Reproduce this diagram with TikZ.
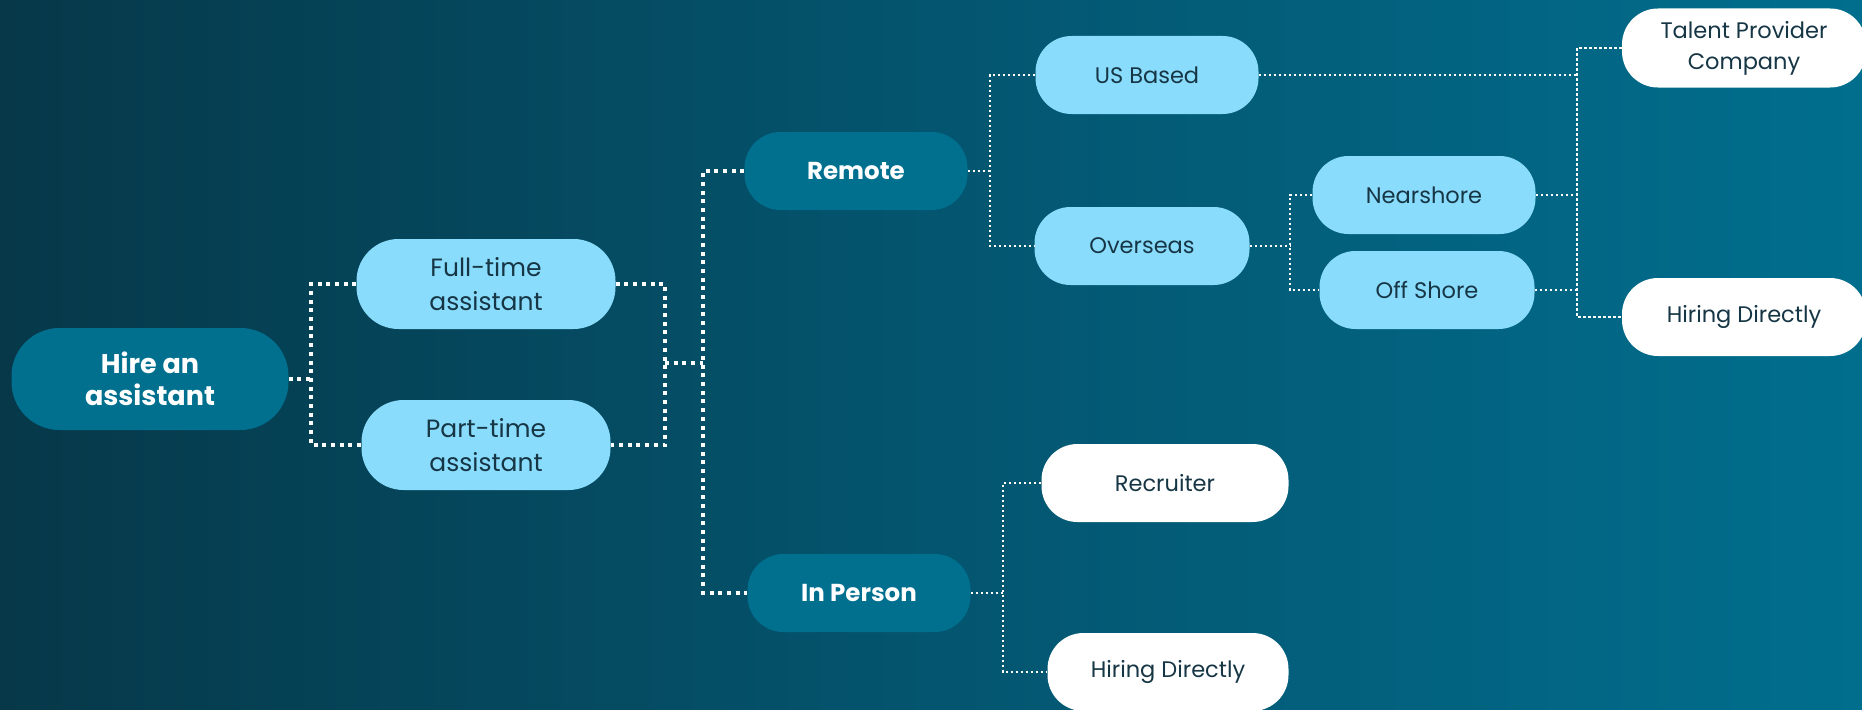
\documentclass[tikz,border=0pt]{standalone}
\usepackage{fontspec}
\setmainfont{Poppins}
\definecolor{bgdark}{HTML}{063849}
\definecolor{bgmid}{HTML}{04556F}
\definecolor{bglight}{HTML}{016E8E}
\definecolor{pilldark}{HTML}{01708F}
\definecolor{pilllight}{HTML}{8ADCFC}
\definecolor{inkdark}{HTML}{163645}

\begin{document}
\begin{tikzpicture}[
    x=1pt, y=-1pt,
    pill/.style={draw=none, rounded corners=36pt, minimum height=78pt, inner sep=0pt, align=center},
    darkpill/.style={pill, fill=pilldark, text=white, font=\bfseries\fontsize{24.5}{30}\selectfont},
    lightpill/.style={pill, fill=pilllight, text=inkdark, font=\fontsize{22.5}{34}\selectfont},
    whitepill/.style={pill, fill=white, text=inkdark, font=\fontsize{22.5}{31}\selectfont},
    twoline/.style={font=\fontsize{25}{34}\selectfont},
    thicklink/.style={draw=white, line width=4pt, dash pattern=on 4pt off 4.7pt},
    link/.style={draw=white, line width=2.4pt, dash pattern=on 2.4pt off 2.6pt}
]

% backdrop
\useasboundingbox (0,0) rectangle (1862,709);
\shade[left color=bgdark, right color=bglight, middle color=bgmid] (0,0) rectangle (1862,709);

% first levels
\node[darkpill, minimum width=277pt, minimum height=102pt, rounded corners=48pt,
      font=\bfseries\fontsize{27}{32}\selectfont] (hire) at (150,379) {Hire an\\assistant};
\node[lightpill, twoline, minimum width=259pt, minimum height=90pt, rounded corners=42pt] (full) at (486,284) {Full-time\\assistant};
\node[lightpill, twoline, minimum width=249pt, minimum height=90pt, rounded corners=42pt] (part) at (486,445) {Part-time\\assistant};
\node[darkpill, minimum width=223pt] (remote) at (856,171) {Remote};
\node[darkpill, minimum width=223pt] (inperson) at (859,593) {In Person};

% remote branch
\node[lightpill, minimum width=223pt] (usbased) at (1147,75) {US Based};
\node[lightpill, minimum width=215pt] (overseas) at (1142,246) {Overseas};
\node[lightpill, minimum width=223pt] (nearshore) at (1424,195) {Nearshore};
\node[lightpill, minimum width=215pt] (offshore) at (1427,290) {Off Shore};
\node[whitepill, minimum width=244pt, minimum height=79pt] (talent) at (1744,48) {Talent Provider\\Company};
\node[whitepill, minimum width=244pt] (hiringr) at (1744,317) {Hiring Directly};

% in person branch
\node[whitepill, minimum width=247pt] (recruiter) at (1165,483) {Recruiter};
\node[whitepill, minimum width=241pt] (hiringb) at (1168,672) {Hiring Directly};

% bus points
\coordinate (b1) at (311,379);
\coordinate (b2) at (665,363);
\coordinate (b3) at (703,363);
\coordinate (b4) at (990,171);
\coordinate (b5) at (1290,246);
\coordinate (b6) at (1577,183);
\coordinate (b7) at (1003,593);

% connectors
\draw[thicklink] (hire.east) -- (b1);
\draw[thicklink] (full.west) -| (b1) |- (part.west);
\draw[thicklink] (full.east) -| (b2) |- (part.east);
\draw[thicklink] (b2) -- (b3);
\draw[thicklink] (remote.west) -| (b3) |- (inperson.west);

\draw[link] (remote.east) -- (b4);
\draw[link] (usbased.west) -| (b4) |- (overseas.west);
\draw[link] (overseas.east) -- (b5);
\draw[link] (nearshore.west) -| (b5) |- (offshore.west);

\draw[link] (usbased.east) -- (usbased.east -| b6);
\draw[link] (nearshore.east) -- (nearshore.east -| b6);
\draw[link] (offshore.east) -- (offshore.east -| b6);
\draw[link] (talent.west) -| (b6) |- (hiringr.west);

\draw[link] (inperson.east) -- (b7);
\draw[link] (recruiter.west) -| (b7) |- (hiringb.west);

\end{tikzpicture}
\end{document}
